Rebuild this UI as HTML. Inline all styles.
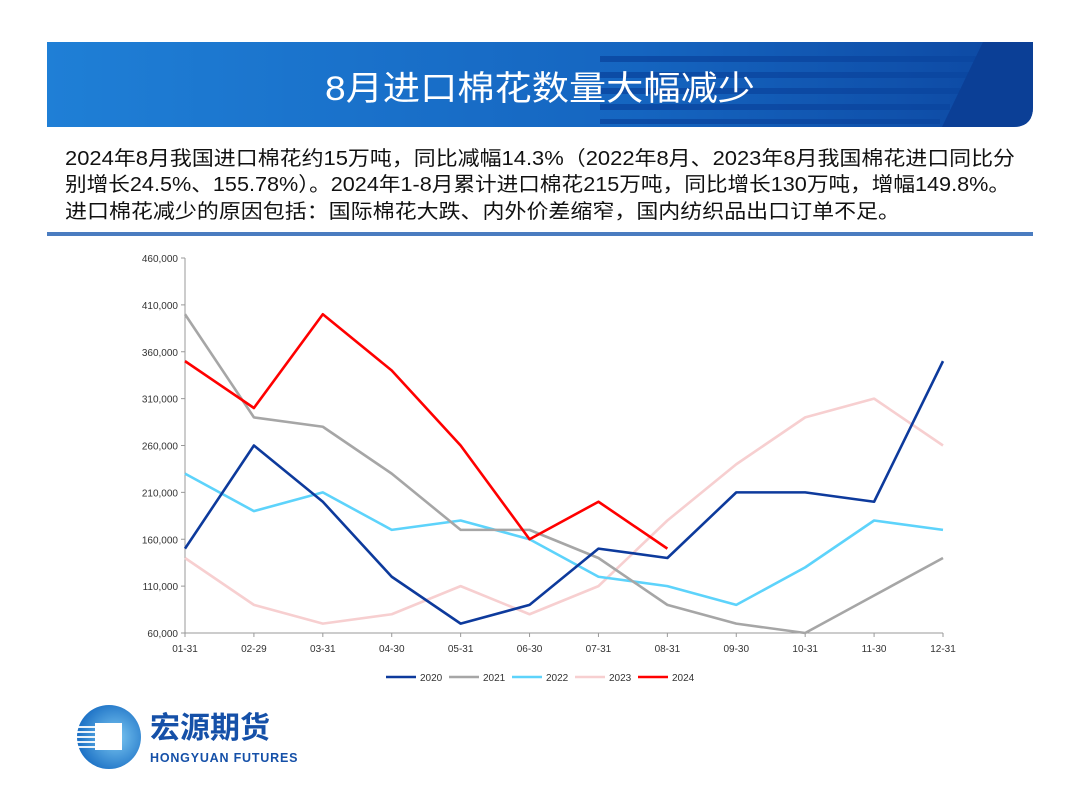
<!DOCTYPE html>
<html><head><meta charset="utf-8"><style>
body{margin:0;width:1080px;height:810px;background:#fff;overflow:hidden;font-family:"Liberation Sans","Noto Sans CJK SC",sans-serif}
svg{display:block}
</style></head><body>
<svg id="s" width="1080" height="810">
<defs>
<linearGradient id="bg" x1="0" x2="1" y1="0" y2="0"><stop offset="0" stop-color="#1f7fd6"/><stop offset="0.6" stop-color="#1565c0"/><stop offset="1" stop-color="#0d47a1"/></linearGradient>
<radialGradient id="lg" cx="0.6" cy="0.5" r="0.6"><stop offset="0" stop-color="#7cc8f2"/><stop offset="1" stop-color="#1a6fc4"/></radialGradient>
</defs>
<g>
<path d="M47,42 H1033 V107 Q1033,127 1013,127 H47 Z" fill="url(#bg)"/>
<g fill="#0b46a0" opacity="0.8">
<rect x="600" y="56" width="380" height="6"/><rect x="600" y="72" width="370" height="6"/><rect x="600" y="88" width="360" height="6"/><rect x="600" y="104" width="350" height="6"/><rect x="600" y="119" width="340" height="5"/>
</g>
<path d="M983,42 H1033 V107 Q1033,127 1013,127 H942 Z" fill="#0b3f96"/>
<text x="325" y="100" fill="#fff" font-size="34" textLength="430" lengthAdjust="spacingAndGlyphs">8月进口棉花数量大幅减少</text>
</g>
<g font-size="20" fill="#111">
<text x="65" y="165" textLength="950" lengthAdjust="spacingAndGlyphs">2024年8月我国进口棉花约15万吨，同比减幅14.3%（2022年8月、2023年8月我国棉花进口同比分</text>
<text x="65" y="191" textLength="945" lengthAdjust="spacingAndGlyphs">别增长24.5%、155.78%）。2024年1-8月累计进口棉花215万吨，同比增长130万吨，增幅149.8%。</text>
<text x="65" y="218" textLength="835" lengthAdjust="spacingAndGlyphs">进口棉花减少的原因包括：国际棉花大跌、内外价差缩窄，国内纺织品出口订单不足。</text>
</g>
<rect x="47" y="232" width="986" height="4" fill="#4a7cc0"/>
<g id="chart"></g>
<g>
<circle cx="109" cy="737" r="32" fill="url(#lg)"/>
<rect x="95" y="723" width="27" height="27" fill="#fff"/>
<g fill="#fff" opacity="0.9"><rect x="75" y="726" width="20" height="2"/><rect x="75" y="731" width="20" height="2"/><rect x="75" y="736" width="20" height="2"/><rect x="75" y="741" width="20" height="2"/><rect x="75" y="746" width="20" height="2"/></g>
<text x="150" y="738" font-size="30" font-weight="bold" fill="#1550a8">宏源期货</text>
<text x="150" y="762" font-size="12.5" font-weight="bold" fill="#1550a8" letter-spacing="0.8">HONGYUAN FUTURES</text>
</g>
</svg>
<script>
const categories=["01-31","02-29","03-31","04-30","05-31","06-30","07-31","08-31","09-30","10-31","11-30","12-31"];
const yTicks=[60000,110000,160000,210000,260000,310000,360000,410000,460000];
const s2020=[150000,260000,200000,120000,70000,90000,150000,140000,210000,210000,200000,350000];
const s2021=[400000,290000,280000,230000,170000,170000,140000,90000,70000,60000,100000,140000];
const s2022=[230000,190000,210000,170000,180000,160000,120000,110000,90000,130000,180000,170000];
const s2023=[140000,90000,70000,80000,110000,80000,110000,180000,240000,290000,310000,260000];
const s2024=[350000,300000,400000,340000,260000,160000,200000,150000];
const seriesNames=["2020","2021","2022","2023","2024"];
const NS="http://www.w3.org/2000/svg";
const g=document.getElementById('chart');
const X0=185,X1=943,Y0=633,Y1=258,YMIN=60000,YMAX=460000;
const xs=i=>X0+(X1-X0)*i/(categories.length-1);
const ys=v=>Y0-(v-YMIN)/(YMAX-YMIN)*(Y0-Y1);
function mk(t,a){const e=document.createElementNS(NS,t);for(const k in a)e.setAttribute(k,a[k]);g.appendChild(e);return e;}
let ax=mk('line',{x1:X0,y1:Y1,x2:X0,y2:Y0,stroke:'#999'});


let bx=mk('line',{x1:X0,y1:Y0,x2:X1,y2:Y0,stroke:'#999'});


yTicks.forEach(v=>{
 mk('line',{x1:X0-4,y1:ys(v),x2:X0,y2:ys(v),stroke:'#999'});
 const t=mk('text',{x:X0-7,y:ys(v)+4,'text-anchor':'end','font-size':10,fill:'#333'});
 t.textContent=v.toLocaleString('en-US');
 
 
});
categories.forEach((c,i)=>{
 mk('line',{x1:xs(i),y1:Y0,x2:xs(i),y2:Y0+4,stroke:'#999'});
 const t=mk('text',{x:xs(i),y:Y0+19,'text-anchor':'middle','font-size':10,fill:'#333'});
 t.textContent=c;
 
 
});
const data=[s2020,s2021,s2022,s2023,s2024];
const colors=['#0d3a9c','#a6a6a6','#5dd3fb','#f7cfd0','#ff0000'];
[3,2,1,0,4].forEach(k=>{
 const p=mk('polyline',{points:data[k].map((v,i)=>xs(i)+','+ys(v)).join(' '),fill:'none',stroke:colors[k],'stroke-width':2.6,'stroke-linejoin':'round'});
 
 
});
seriesNames.forEach((n,k)=>{
 const x=386+k*63;
 const l=mk('line',{x1:x,y1:677,x2:x+30,y2:677,stroke:colors[k],'stroke-width':2.6});
 
 
 const t=mk('text',{x:x+34,y:681,'font-size':10,fill:'#333'});
 t.textContent=n;
 
 
});
</script>
</body></html>
